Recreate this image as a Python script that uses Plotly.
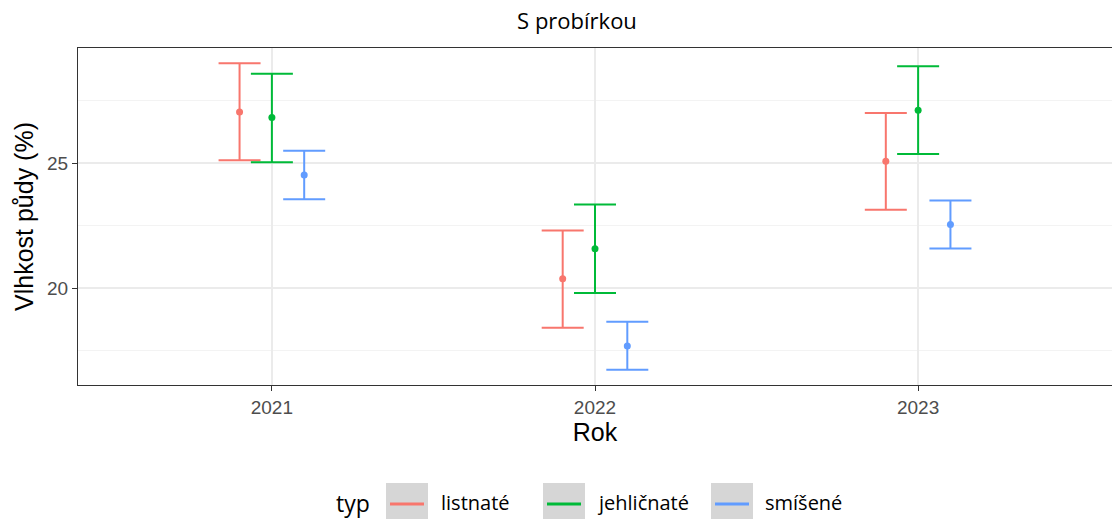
import plotly.graph_objects as go

# ---------------- data ----------------
years = ["2021", "2022", "2023"]
types = ["listnaté", "jehličnaté", "smíšené"]

mean_listnate = [27.04, 20.38, 25.07]
low_listnate = [25.11, 18.42, 23.13]
high_listnate = [28.99, 22.31, 27.00]

mean_jehlicnate = [26.82, 21.58, 27.11]
low_jehlicnate = [25.03, 19.81, 25.36]
high_jehlicnate = [28.57, 23.34, 28.87]

mean_smisene = [24.52, 17.69, 22.55]
low_smisene = [23.55, 16.74, 21.59]
high_smisene = [25.49, 18.66, 23.50]

y_ticks = [20, 25]
title_text = "S probírkou"
x_title = "Rok"
y_title = "Vlhkost půdy (%)"
legend_title = "typ"

# ---------------- style ----------------
colors = ["#F8766D", "#00BA38", "#619CFF"]
DODGE = 0.3
W, H = 1112, 519
# panel in page pixels: left 78, top 48, right 1112, bottom 385
L, T, R, B = 78, 48, 0, 519 - 385
PW, PH = W - L - R, H - T - B

means = [mean_listnate, mean_jehlicnate, mean_smisene]
lows = [low_listnate, low_jehlicnate, low_smisene]
highs = [high_listnate, high_jehlicnate, high_smisene]

fig = go.Figure()
n = len(types)
for i, t in enumerate(types):
    off = (i - (n - 1) / 2) * DODGE / n
    xs = [k + 1 + off for k in range(len(years))]
    m, lo, hi = means[i], lows[i], highs[i]
    fig.add_trace(go.Scatter(
        x=xs, y=m, mode="markers", name=t,
        marker=dict(color=colors[i], size=7),
        error_y=dict(type="data", symmetric=False,
                     array=[h - v for h, v in zip(hi, m)],
                     arrayminus=[v - l for v, l in zip(m, lo)],
                     width=21, thickness=2, color=colors[i]),
        showlegend=False,
    ))

# y range with ggplot-like 5% expansion
allv = [v for arr in lows + highs for v in arr]
ymin, ymax = min(allv), max(allv)
pad = (ymax - ymin) * 0.05
yr = [ymin - pad, ymax + pad]


def px_x(px):
    return (px - L) / PW


def px_y(py):
    return (H - B - py) / PH


axis_font = dict(family="Liberation Sans, Arial, sans-serif", size=19, color="#4D4D4D")
title_font = dict(family="Liberation Sans, Arial, sans-serif", size=25, color="#000000")

fig.update_layout(
    width=W, height=H,
    margin=dict(l=L, r=R, t=T, b=B, pad=0),
    paper_bgcolor="white", plot_bgcolor="white",
    title=dict(text=title_text, x=px_x(577), xref="paper", xanchor="center",
               y=1 - 21 / H, yref="container", yanchor="middle",
               font=dict(family="Open Sans, Noto Sans, sans-serif", size=22, color="#000000")),
    xaxis=dict(range=[0.4, 3.6], tickmode="array", tickvals=[1, 2, 3], ticktext=years,
               showgrid=True, gridcolor="#EBEBEB", gridwidth=1.5,
               showline=True, mirror=True, linecolor="#333333", linewidth=1.3,
               ticks="outside", ticklen=5, tickwidth=1.3, tickcolor="#333333",
               tickfont=axis_font, zeroline=False, automargin=False,
               title=dict(text=x_title, font=title_font, standoff=6)),
    yaxis=dict(range=yr, tickmode="array", tickvals=y_ticks,
               showgrid=True, gridcolor="#EBEBEB", gridwidth=1.5,
               minor=dict(dtick=2.5, tick0=0, showgrid=True, gridcolor="#F3F3F3", gridwidth=1, ticks=""),
               showline=True, mirror=True, linecolor="#333333", linewidth=1.3,
               ticks="outside", ticklen=5, tickwidth=1.3, tickcolor="#333333",
               tickfont=axis_font, zeroline=False, automargin=False,
               title=dict(text=y_title, font=title_font, standoff=6)),
)

# ---------------- manual legend ----------------
shapes = []
annotations = [dict(text=legend_title, x=px_x(353), y=px_y(503), xref="paper", yref="paper",
                    xanchor="center", yanchor="middle", showarrow=False,
                    font=dict(family="Open Sans, Noto Sans, sans-serif", size=23, color="#000000"))]
box_lefts = [386, 543, 711]
label_lefts = [439, 595, 763]
for i, t in enumerate(types):
    bl = box_lefts[i]
    shapes.append(dict(type="rect", xref="paper", yref="paper",
                       x0=px_x(bl), x1=px_x(bl + 42), y0=px_y(483), y1=px_y(525),
                       fillcolor="#D6D6D6", line=dict(width=0), layer="above"))
    shapes.append(dict(type="line", xref="paper", yref="paper",
                       x0=px_x(bl + 4), x1=px_x(bl + 38), y0=px_y(504), y1=px_y(504),
                       line=dict(color=colors[i], width=3), layer="above"))
    annotations.append(dict(text=t, x=px_x(label_lefts[i]), y=px_y(503), xref="paper", yref="paper",
                            xanchor="left", yanchor="middle", showarrow=False,
                            font=dict(family="Open Sans, Noto Sans, sans-serif", size=20, color="#000000")))
fig.update_layout(shapes=shapes, annotations=annotations)

fig.write_html("out.html", config={"displayModeBar": False},
               post_script="document.body.style.margin='0px';")
